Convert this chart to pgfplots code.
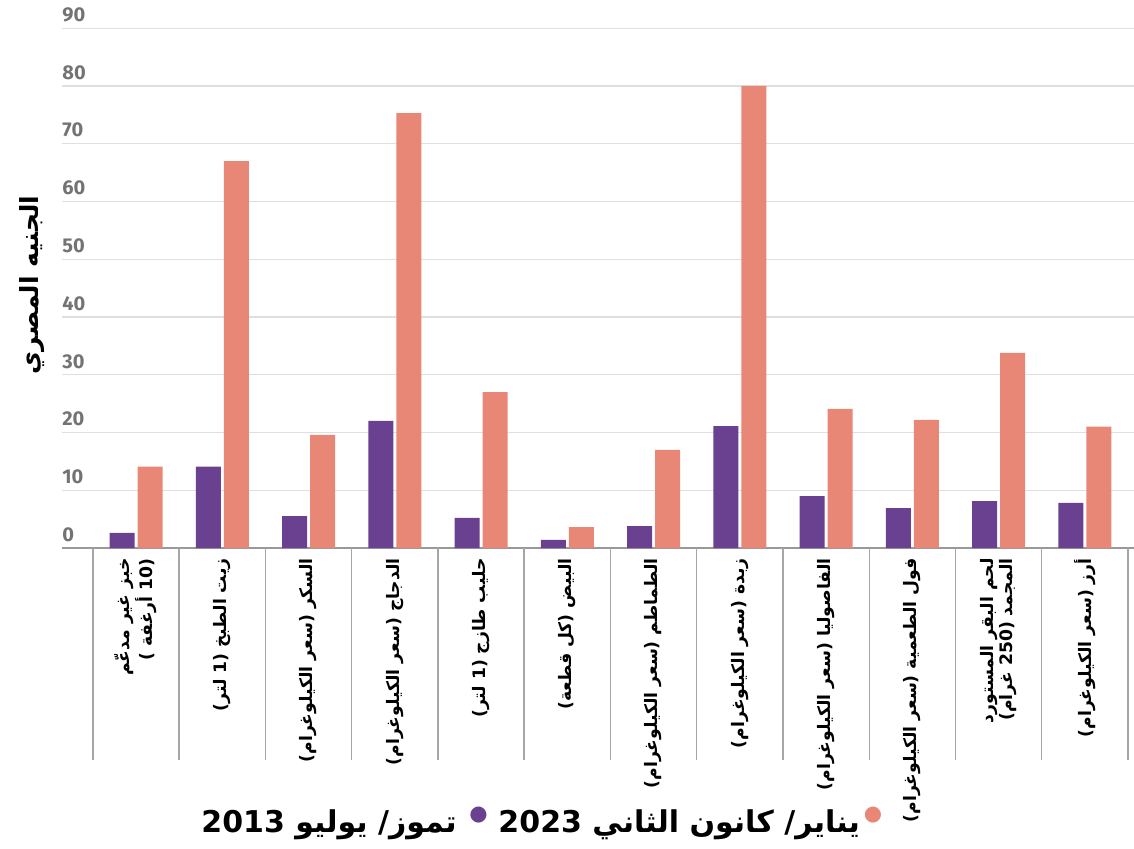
\documentclass[border=0pt]{standalone}
\usepackage{pgfplots}
\pgfplotsset{compat=1.18}
\usepackage{fontspec}
\setmainfont{DejaVu Sans}
\newfontfamily\arabicfont[Script=Arabic]{DejaVu Sans}
\newfontfamily\numfont{Fira Sans}
\TeXXeTstate=1
\definecolor{cpurple}{HTML}{6A4190}
\definecolor{csalmon}{HTML}{E98776}
\begin{document}
\begin{tikzpicture}
\path[use as bounding box] (-31pt,-150pt) rectangle (536pt,274pt);
\begin{axis}[
  at={(0,0)}, anchor=south west,
  scale only axis, width=536pt, height=259.9pt,
  xmin=-0.858, xmax=11.57, ymin=0, ymax=90,
  clip=false,
  axis x line=bottom, axis y line=left,
  axis line style={-},
  x axis line style={draw=gray!80, line width=1.1pt},
  y axis line style={draw=none},
  ytick={0,10,...,90}, ytick style={draw=none},
  ymajorgrids, grid style={draw=gray!25, line width=0.6pt},
  /pgf/number format/assume math mode=true,
  yticklabel style={anchor=south west, inner sep=0pt, yshift=3pt,
    font=\numfont\bfseries\fontsize{10}{12}\selectfont, text=black!55},
  xtick={0,...,11}, major tick length=0pt, xtick style={draw=none},
  xticklabel shift=5pt,
  xticklabel style={rotate=90, anchor=east, align=right, inner sep=0pt,
    font=\arabicfont\bfseries\fontsize{8.6}{9.5}\selectfont},
  xticklabels={
    {\beginR خبز غير مدعّم\endR\\\beginR (10 أرغفة )\endR},
    {\beginR زيت الطبخ (1 لتر)\endR},
    {\beginR السكر (سعر الكيلوغرام)\endR},
    {\beginR الدجاج (سعر الكيلوغرام)\endR},
    {\beginR حليب طازج (1 لتر)\endR},
    {\beginR البيض (كل قطعة)\endR},
    {\beginR الطماطم (سعر الكيلوغرام)\endR},
    {\beginR زبدة (سعر الكيلوغرام)\endR},
    {\beginR الفاصوليا (سعر الكيلوغرام)\endR},
    {\beginR فول الطعمية (سعر الكيلوغرام)\endR},
    {\beginR لحم البقر المستورد\endR\\\beginR المجمد (250 غرام)\endR},
    {\beginR أرز (سعر الكيلوغرام)\endR}
  },
  ylabel={\beginR الجنيه المصري\endR},
  every axis y label/.style={at={(axis description cs:-0.028,0.506)}, rotate=90, anchor=center,
    font=\arabicfont\bfseries\fontsize{12.5}{14}\selectfont},
]
\addplot[ycomb, draw=gray!70, line width=0.7pt, no marks, forget plot] coordinates {
  (-0.5,-36.7) (0.5,-36.7) (1.5,-36.7) (2.5,-36.7) (3.5,-36.7) (4.5,-36.7)
  (5.5,-36.7) (6.5,-36.7) (7.5,-36.7) (8.5,-36.7) (9.5,-36.7) (10.5,-36.7) (11.5,-36.7)};
\addplot[ybar, bar width=12.5pt, bar shift=-7pt, fill=cpurple, draw=none] coordinates {
  (0,2.6) (1,14.1) (2,5.5) (3,22.0) (4,5.2) (5,1.4) (6,3.8) (7,21.1) (8,9.0) (9,6.9) (10,8.1) (11,7.8)};
\addplot[ybar, bar width=12.5pt, bar shift=7pt, fill=csalmon, draw=none] coordinates {
  (0,14.1) (1,67.0) (2,19.6) (3,75.3) (4,27.0) (5,3.6) (6,17.0) (7,80.0) (8,24.1) (9,22.2) (10,33.8) (11,21.0)};
\end{axis}
\node[font=\fontsize{10.5}{12}\selectfont, text=csalmon, inner sep=0pt] (ds) at (405.5pt,-133.5pt) {●};
\node[font=\arabicfont\bfseries\fontsize{15}{18}\selectfont, inner sep=0pt, anchor=base east]
  (tb) at ([xshift=-1.5pt]ds.west |- 0,-142pt) {\beginR يناير/ كانون الثاني \beginL 2023\endL\endR};
\node[font=\fontsize{10.5}{12}\selectfont, text=cpurple, inner sep=0pt, anchor=east] (dp) at ([xshift=-5pt]tb.west |- ds.center) {●};
\node[font=\arabicfont\bfseries\fontsize{15}{18}\selectfont, inner sep=0pt, anchor=base east]
  (ta) at ([xshift=-6pt]dp.west |- 0,-142pt) {\beginR تموز/ يوليو \beginL 2013\endL\endR};
\end{tikzpicture}
\end{document}
